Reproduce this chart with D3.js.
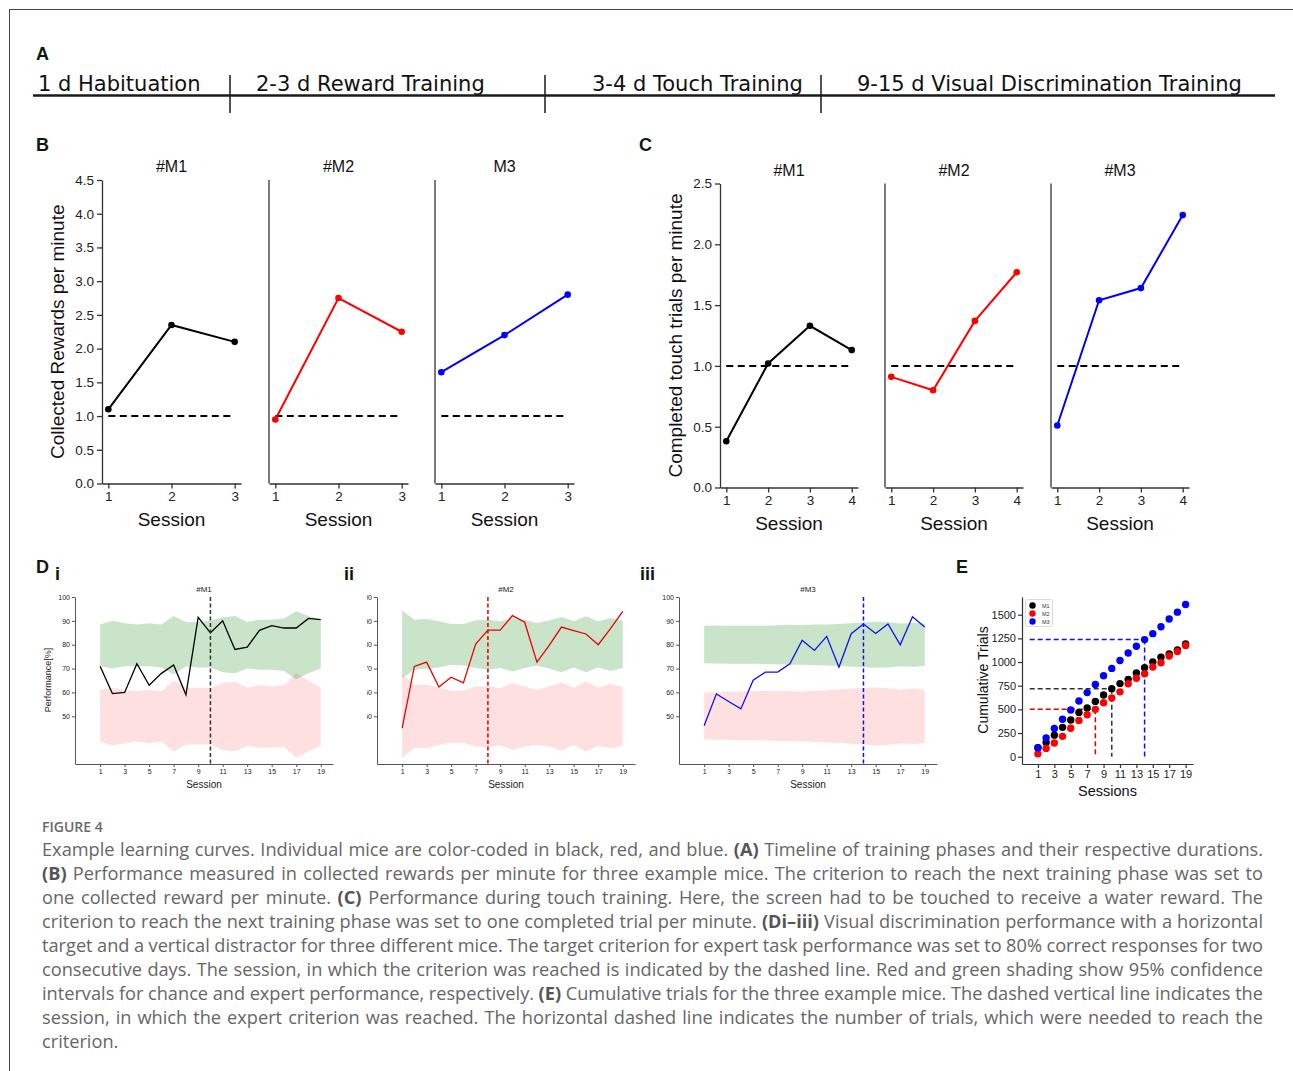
<!DOCTYPE html>
<html>
<head>
<meta charset="utf-8">
<script src="https://cdn.jsdelivr.net/npm/d3@7"></script>
<style>
body { margin: 0; background: #fff; }
svg { display: block; }
</style>
</head>
<body>
<script>
// ---- data ----
var phases = ["1 d Habituation", "2-3 d Reward Training", "3-4 d Touch Training", "9-15 d Visual Discrimination Training"];

var mice = ["M1", "M2", "M3"];
var rewardTitles = ["#M1", "#M2", "M3"];
var touchTitles = ["#M1", "#M2", "#M3"];
var perfTitles = ["#M1", "#M2", "#M3"];

var rewardSessions = [1, 2, 3];
var rewardsM1 = [1.1, 2.35, 2.1];
var rewardsM2 = [0.95, 2.75, 2.25];
var rewardsM3 = [1.65, 2.2, 2.8];
var rewardTicks = [0, 0.5, 1, 1.5, 2, 2.5, 3, 3.5, 4, 4.5];

var touchSessions = [1, 2, 3, 4];
var touchM1 = [0.38, 1.02, 1.33, 1.13];
var touchM2 = [0.91, 0.80, 1.37, 1.77];
var touchM3 = [0.51, 1.54, 1.64, 2.24];
var touchTicks = [0, 0.5, 1, 1.5, 2, 2.5];

var criterionRate = 1;

var vdSessions = [1, 2, 3, 4, 5, 6, 7, 8, 9, 10, 11, 12, 13, 14, 15, 16, 17, 18, 19];
var sessionTicks = [1, 3, 5, 7, 9, 11, 13, 15, 17, 19];
var perfTicks = [50, 60, 70, 80, 90, 100];

var perfM1 = [71, 59.5, 60, 72, 63, 68, 71.5, 59, 91.5, 85, 90, 78, 79, 86, 88, 87, 87, 91, 90.5];
var expertHiM1 = [88.5, 90, 89, 88.5, 89, 88.5, 92, 89.5, 89.5, 90, 91.5, 92, 89.5, 90.5, 90.5, 91, 94, 92, 90.5];
var expertLoM1 = [71, 70, 71, 71, 71, 70.5, 67.5, 71, 70.5, 70.5, 68.5, 68, 70, 69.5, 69.5, 69, 65.5, 68, 70];
var chanceHiM1 = [61, 62, 61, 60.5, 61, 60.5, 65, 62, 62, 62, 64, 64.5, 62, 63, 62.5, 63, 68, 65, 62];
var chanceLoM1 = [39.4, 37.7, 38.7, 39.4, 38.7, 39.4, 35.2, 38.2, 38.2, 38.2, 35.9, 35.2, 37.7, 36.8, 36.8, 37.3, 32.6, 35.2, 37.7];

var perfM2 = [45, 70.9, 72.7, 62.3, 66.4, 64, 80.3, 86.1, 86.1, 92.2, 89.4, 72.7, 79.7, 87.4, 85.9, 84.5, 80, 86.7, 94];
var expertHiM2 = [94.3, 90.5, 90.8, 89.8, 88.7, 88.7, 90.3, 90.5, 89.8, 91.2, 90.5, 89.1, 90.1, 91.6, 89.8, 91.9, 89.8, 91.2, 90.1];
var expertLoM2 = [66, 69.5, 69.9, 70.4, 71.6, 71.3, 70.2, 69.5, 70.2, 68.8, 70.2, 71.3, 69.9, 68.5, 70.4, 68.5, 70.4, 69, 70.2];
var chanceHiM2 = [67.6, 63.2, 63.2, 62, 60.8, 60.8, 62.5, 62.7, 61.8, 63.9, 62.5, 61.1, 62.5, 64.3, 62, 64.6, 62, 63.6, 62.2];
var chanceLoM2 = [32.4, 36.8, 36.6, 38, 38.9, 38.9, 37.3, 36.8, 38, 35.9, 37.3, 38, 37.3, 35.6, 38, 35.2, 37.7, 36.6, 37.7];

var perfM3 = [46, 59.4, 56.2, 53.1, 65.1, 68.5, 68.5, 72, 81.9, 77.6, 83.5, 70.6, 84.6, 88.7, 84.7, 88.7, 80, 91.7, 87.4];
var expertHiM3 = [88, 88.1, 88, 88, 88, 88, 88.2, 88.4, 88.3, 88.5, 88.5, 88.7, 89, 89.3, 89.6, 89.4, 88.9, 89.1, 88.9];
var expertLoM3 = [72.2, 72.1, 72, 72, 72, 71.9, 71.8, 71.6, 71.6, 71.5, 71.3, 71.1, 70.9, 70.6, 70.3, 70.5, 71, 70.8, 71.1];
var chanceHiM3 = [60, 60.1, 60.3, 60.4, 60.5, 60.6, 60.7, 60.6, 60.3, 60.7, 60.9, 61.2, 61.6, 61.9, 62.1, 61.8, 61.1, 61.6, 61.2];
var chanceLoM3 = [40.3, 40.2, 40.1, 40, 40, 39.8, 39.6, 39.6, 39.5, 39.2, 39, 38.8, 38.5, 38.2, 37.8, 38, 38.6, 38.4, 38.8];

var criterionSession = [10, 8, 14];

var cumM1 = [95, 150, 228, 310, 387, 468, 514, 584, 652, 719, 772, 817, 884, 940, 1000, 1050, 1085, 1127, 1190];
var cumM2 = [30, 88, 145, 215, 300, 383, 443, 500, 570, 620, 685, 770, 828, 877, 947, 993, 1063, 1112, 1176];
var cumM3 = [95, 197, 298, 395, 493, 588, 677, 762, 855, 933, 1017, 1095, 1167, 1237, 1300, 1373, 1455, 1527, 1607];
var criterionTrials = [719, 500, 1237];
var cumTicks = [0, 250, 500, 750, 1000, 1250, 1500];

var captionLines = [
  "Example learning curves. Individual mice are color-coded in black, red, and blue. (A) Timeline of training phases and their respective durations.",
  "(B) Performance measured in collected rewards per minute for three example mice. The criterion to reach the next training phase was set to",
  "one collected reward per minute. (C) Performance during touch training. Here, the screen had to be touched to receive a water reward. The",
  "criterion to reach the next training phase was set to one completed trial per minute. (Di\u2013iii) Visual discrimination performance with a horizontal",
  "target and a vertical distractor for three different mice. The target criterion for expert task performance was set to 80% correct responses for two",
  "consecutive days. The session, in which the criterion was reached is indicated by the dashed line. Red and green shading show 95% confidence",
  "intervals for chance and expert performance, respectively. (E) Cumulative trials for the three example mice. The dashed vertical line indicates the",
  "session, in which the expert criterion was reached. The horizontal dashed line indicates the number of trials, which were needed to reach the",
  "criterion."
];
var boldWords = ["(A)", "(B)", "(C)", "(Di\u2013iii)", "(E)"];

// ---- drawing ----
var ARIAL = "'Liberation Sans', Arial, Helvetica, sans-serif";
var colors = ["#000000", "#ff0000", "#0000ff"];

var svg = d3.select("body").append("svg")
  .attr("width", 1293)
  .attr("height", 1071)
  .style("font-family", ARIAL);

// frame
svg.append("line").attr("x1", 9).attr("x2", 1293).attr("y1", 9.5).attr("y2", 9.5)
  .attr("stroke", "#444").attr("stroke-width", 1);
svg.append("line").attr("x1", 9.5).attr("x2", 9.5).attr("y1", 9).attr("y2", 1071)
  .attr("stroke", "#444").attr("stroke-width", 1);

function panelLabel(txt, x, y) {
  svg.append("text").attr("x", x).attr("y", y).text(txt)
    .attr("font-size", 18).attr("font-weight", "bold").attr("fill", "#0e180e");
}

function styleAxis(ax, fs, col, w) {
  ax.attr("font-size", fs).attr("font-family", ARIAL);
  ax.select(".domain").attr("stroke", col).attr("stroke-width", w);
  ax.selectAll(".tick line").attr("stroke", col).attr("stroke-width", w);
  ax.selectAll(".tick text").attr("fill", "#222");
}

// ---- A: timeline ----
panelLabel("A", 36, 60);
var phaseX = [38, 256, 592, 857];
svg.selectAll("text.phase")
  .data(phases)
  .enter()
  .append("text")
  .attr("class", "phase")
  .attr("x", function(d, i) { return phaseX[i]; })
  .attr("y", 91)
  .style("font-family", "'DejaVu Sans', sans-serif")
  .attr("font-size", 21)
  .attr("fill", "#111")
  .text(function(d) { return d; });
svg.append("line").attr("x1", 33).attr("x2", 1275).attr("y1", 95.5).attr("y2", 95.5)
  .attr("stroke", "#1a1a1a").attr("stroke-width", 2.5);
[230, 545, 821].forEach(function(x) {
  svg.append("line").attr("x1", x).attr("x2", x).attr("y1", 75).attr("y2", 113)
    .attr("stroke", "#1a1a1a").attr("stroke-width", 1.5);
});

// ---- B and C: rate panels ----
function drawRate(o) {
  var y = d3.scaleLinear().domain(o.yDomain).range([o.bottom, o.top]);
  o.series.forEach(function(vals, i) {
    var left = o.lefts[i];
    var x = d3.scaleLinear().domain(o.xDomain).range([left, left + o.width]);
    var g = svg.append("g");

    var ax = g.append("g")
      .attr("transform", "translate(0," + o.bottom + ")")
      .call(d3.axisBottom(x).tickValues(o.sessions).tickFormat(d3.format("d"))
        .tickSize(5).tickSizeOuter(0).tickPadding(3));
    styleAxis(ax, 13.5, "#333", 1.3);

    if (i === 0) {
      var ay = g.append("g")
        .attr("transform", "translate(" + left + ",0)")
        .call(d3.axisLeft(y).tickValues(o.yTicks).tickFormat(d3.format(".1f"))
          .tickSize(5).tickSizeOuter(0).tickPadding(3));
      styleAxis(ay, 13.5, "#333", 1.3);
    } else {
      g.append("line").attr("x1", left).attr("x2", left)
        .attr("y1", y(o.yDomain[0])).attr("y2", y(o.yDomain[1]))
        .attr("stroke", "#333").attr("stroke-width", 1.3);
    }

    g.append("line")
      .attr("x1", x(o.sessions[0])).attr("x2", x(o.sessions[o.sessions.length - 1]))
      .attr("y1", y(criterionRate)).attr("y2", y(criterionRate))
      .attr("stroke", "#000").attr("stroke-width", 2).attr("stroke-dasharray", "7,4.5");

    var line = d3.line()
      .x(function(d, j) { return x(o.sessions[j]); })
      .y(function(d) { return y(d); });
    g.append("path").datum(vals)
      .attr("d", line).attr("fill", "none")
      .attr("stroke", colors[i]).attr("stroke-width", 2);
    g.selectAll("circle").data(vals).enter().append("circle")
      .attr("cx", function(d, j) { return x(o.sessions[j]); })
      .attr("cy", function(d) { return y(d); })
      .attr("r", 3.3).attr("fill", colors[i]);

    var mid = x((o.sessions[0] + o.sessions[o.sessions.length - 1]) / 2);
    g.append("text").attr("x", mid).attr("y", o.titleY).attr("text-anchor", "middle")
      .attr("font-size", 16).attr("fill", "#111").text(o.titles[i]);
    g.append("text").attr("x", mid).attr("y", o.sessionY).attr("text-anchor", "middle")
      .attr("font-size", 19).attr("fill", "#111").text("Session");
  });
  svg.append("text")
    .attr("transform", "translate(" + o.yLabelX + "," + ((o.top + o.bottom) / 2) + ") rotate(-90)")
    .attr("text-anchor", "middle").attr("font-size", 19).attr("fill", "#111")
    .text(o.yLabel);
}

panelLabel("B", 36, 151);
drawRate({
  series: [rewardsM1, rewardsM2, rewardsM3],
  sessions: rewardSessions,
  titles: rewardTitles,
  yDomain: [0, 4.5], yTicks: rewardTicks,
  xDomain: [0.9, 3.1],
  lefts: [102, 269, 435], width: 139,
  top: 180, bottom: 483.5,
  titleY: 172, sessionY: 526,
  yLabelX: 64, yLabel: "Collected Rewards per minute"
});

panelLabel("C", 639, 151);
drawRate({
  series: [touchM1, touchM2, touchM3],
  sessions: touchSessions,
  titles: touchTitles,
  yDomain: [0, 2.5], yTicks: touchTicks,
  xDomain: [0.85, 4.15],
  lefts: [720, 885, 1051], width: 138,
  top: 183.5, bottom: 487.5,
  titleY: 176, sessionY: 530,
  yLabelX: 682, yLabel: "Completed touch trials per minute"
});

// ---- D: visual discrimination ----
panelLabel("D", 36, 573);
svg.append("text").attr("x", 55).attr("y", 580).attr("font-size", 18).attr("font-weight", "bold").attr("fill", "#0e180e").text("i");
svg.append("text").attr("x", 344).attr("y", 580).attr("font-size", 18).attr("font-weight", "bold").attr("fill", "#0e180e").text("ii");
svg.append("text").attr("x", 640).attr("y", 580).attr("font-size", 18).attr("font-weight", "bold").attr("fill", "#0e180e").text("iii");

var perfSeries = [perfM1, perfM2, perfM3];
var expertHi = [expertHiM1, expertHiM2, expertHiM3];
var expertLo = [expertLoM1, expertLoM2, expertLoM3];
var chanceHi = [chanceHiM1, chanceHiM2, chanceHiM3];
var chanceLo = [chanceLoM1, chanceLoM2, chanceLoM3];
var dLeft = [75, 377, 679];
var dWidth = 258;
var dColors = ["#000000", "#ee0000", "#1010ee"];
var dDash = ["#333333", "#dd0000", "#1010ee"];

// the tick labels of panel ii are cut off at the left in the original
var defs = svg.append("defs");
defs.append("clipPath").attr("id", "clipDii").append("rect")
  .attr("x", -10).attr("y", 580).attr("width", 30).attr("height", 200);

perfSeries.forEach(function(vals, i) {
  var x = d3.scaleLinear().domain([-1.05, 20]).range([dLeft[i], dLeft[i] + dWidth]);
  var y = d3.scaleLinear().domain([30, 100]).range([764, 597]);
  var g = svg.append("g");
  var mid = dLeft[i] + dWidth / 2;

  var hiE = expertHi[i], loE = expertLo[i], hiC = chanceHi[i], loC = chanceLo[i];
  var areaE = d3.area()
    .x(function(d, j) { return x(vdSessions[j]); })
    .y0(function(d, j) { return y(loE[j]); })
    .y1(function(d, j) { return y(hiE[j]); });
  var areaC = d3.area()
    .x(function(d, j) { return x(vdSessions[j]); })
    .y0(function(d, j) { return y(loC[j]); })
    .y1(function(d, j) { return y(hiC[j]); });
  g.append("path").datum(vdSessions).attr("d", areaC).attr("fill", "#ff0000").attr("fill-opacity", 0.12);
  g.append("path").datum(vdSessions).attr("d", areaE).attr("fill", "#008000").attr("fill-opacity", 0.21);

  var ax = g.append("g")
    .attr("transform", "translate(0,764)")
    .call(d3.axisBottom(x).tickValues(sessionTicks).tickFormat(d3.format("d"))
      .tickSize(3).tickSizeOuter(0).tickPadding(2));
  styleAxis(ax, 7, "#555", 1);

  var ay = g.append("g")
    .attr("transform", "translate(" + dLeft[i] + ",0)")
    .call(d3.axisLeft(y).tickValues(perfTicks).tickFormat(d3.format("d"))
      .tickSize(3).tickSizeOuter(0).tickPadding(2));
  styleAxis(ay, 7, "#555", 1);
  if (i === 1) ay.attr("clip-path", "url(#clipDii)");

  g.append("path").datum(vals)
    .attr("d", d3.line().x(function(d, j) { return x(vdSessions[j]); }).y(function(d) { return y(d); }))
    .attr("fill", "none").attr("stroke", dColors[i]).attr("stroke-width", 1.3);

  g.append("line")
    .attr("x1", x(criterionSession[i])).attr("x2", x(criterionSession[i]))
    .attr("y1", y(100)).attr("y2", y(30))
    .attr("stroke", dDash[i]).attr("stroke-width", 1.5).attr("stroke-dasharray", "4,2.5");

  g.append("text").attr("x", mid).attr("y", 592).attr("text-anchor", "middle")
    .attr("font-size", 8).attr("fill", "#222").text(perfTitles[i]);
  g.append("text").attr("x", mid).attr("y", 788).attr("text-anchor", "middle")
    .attr("font-size", 10).attr("fill", "#222").text("Session");
  if (i === 0) {
    g.append("text").attr("transform", "translate(51,680) rotate(-90)")
      .attr("text-anchor", "middle").attr("font-size", 9).attr("fill", "#222")
      .text("Performance[%]");
  }
});

// ---- E: cumulative trials ----
panelLabel("E", 956, 573);
(function() {
  var x = d3.scaleLinear().domain([-0.94, 19.9]).range([1022, 1193]);
  var y = d3.scaleLinear().domain([-77, 1687]).range([764, 597]);
  var g = svg.append("g");

  var ax = g.append("g").attr("transform", "translate(0,764)")
    .call(d3.axisBottom(x).tickValues(sessionTicks).tickFormat(d3.format("d"))
      .tickSize(4).tickSizeOuter(0).tickPadding(2));
  styleAxis(ax, 11, "#333", 1.2);
  var ay = g.append("g").attr("transform", "translate(1022,0)")
    .call(d3.axisLeft(y).tickValues(cumTicks).tickFormat(d3.format("d"))
      .tickSize(4).tickSizeOuter(0).tickPadding(2));
  styleAxis(ay, 11, "#333", 1.2);

  criterionTrials.forEach(function(t, i) {
    g.append("line").attr("x1", x(0)).attr("x2", x(criterionSession[i]))
      .attr("y1", y(t)).attr("y2", y(t))
      .attr("stroke", dDash[i]).attr("stroke-width", 1.5).attr("stroke-dasharray", "5,3");
    g.append("line").attr("x1", x(criterionSession[i])).attr("x2", x(criterionSession[i]))
      .attr("y1", y(t)).attr("y2", y(0))
      .attr("stroke", dDash[i]).attr("stroke-width", 1.5).attr("stroke-dasharray", "5,3");
  });

  [cumM1, cumM2, cumM3].forEach(function(vals, i) {
    g.selectAll("circle.m" + i).data(vals).enter().append("circle")
      .attr("class", "m" + i)
      .attr("cx", function(d, j) { return x(vdSessions[j]); })
      .attr("cy", function(d) { return y(d); })
      .attr("r", 3.7).attr("fill", colors[i]);
  });

  // legend
  g.append("rect").attr("x", 1025.5).attr("y", 599.5).attr("width", 27).attr("height", 27)
    .attr("rx", 2).attr("fill", "#fff").attr("stroke", "#d0d0d0").attr("stroke-width", 0.8);
  mice.forEach(function(m, i) {
    g.append("circle").attr("cx", 1032.5).attr("cy", 605.5 + i * 8).attr("r", 3.2).attr("fill", colors[i]);
    g.append("text").attr("x", 1042).attr("y", 607.5 + i * 8).attr("font-size", 5.5).attr("fill", "#333").text(m);
  });

  g.append("text").attr("x", (1022 + 1193) / 2).attr("y", 796).attr("text-anchor", "middle")
    .attr("font-size", 14.5).attr("fill", "#111").text("Sessions");
  g.append("text").attr("transform", "translate(988,680) rotate(-90)")
    .attr("text-anchor", "middle").attr("font-size", 14).attr("fill", "#111")
    .text("Cumulative Trials");
})();

// ---- caption ----
var CAP_FONT = "'Open Sans', Lato, sans-serif";
svg.append("text").attr("x", 42).attr("y", 832)
  .style("font-family", CAP_FONT).attr("font-size", 14).attr("font-weight", 600)
  .attr("fill", "#6a6a6a").text("FIGURE 4");

var capLeft = 42, capWidth = 1221;
var meas = svg.append("text").style("font-family", CAP_FONT).attr("opacity", 0);
function wordWidth(w, fs) {
  meas.attr("font-size", fs).attr("font-weight", boldWords.indexOf(w) >= 0 ? 700 : 400).text(w);
  return meas.node().getComputedTextLength();
}
var capSize = 18.2;
var worst = 0;
captionLines.forEach(function(line) {
  var words = line.split(" ");
  var sum = d3.sum(words, function(w) { return wordWidth(w, capSize); }) + (words.length - 1) * 3.4;
  worst = Math.max(worst, sum / capWidth);
});
if (worst > 1) capSize = capSize / worst;
var spaceW = wordWidth("a a", capSize) - 2 * wordWidth("a", capSize);

captionLines.forEach(function(line, li) {
  var words = line.split(" ");
  var widths = words.map(function(w) { return wordWidth(w, capSize); });
  var last = li === captionLines.length - 1;
  var gap = last ? spaceW : (capWidth - d3.sum(widths)) / (words.length - 1);
  var t = svg.append("text").attr("y", 856 + li * 24)
    .style("font-family", CAP_FONT).attr("font-size", capSize).attr("fill", "#666");
  var cx = capLeft;
  words.forEach(function(w, k) {
    t.append("tspan").attr("x", cx)
      .attr("font-weight", boldWords.indexOf(w) >= 0 ? 700 : 400)
      .attr("fill", boldWords.indexOf(w) >= 0 ? "#555" : null)
      .text(w);
    cx += widths[k] + gap;
  });
});
meas.remove();
</script>
</body>
</html>
